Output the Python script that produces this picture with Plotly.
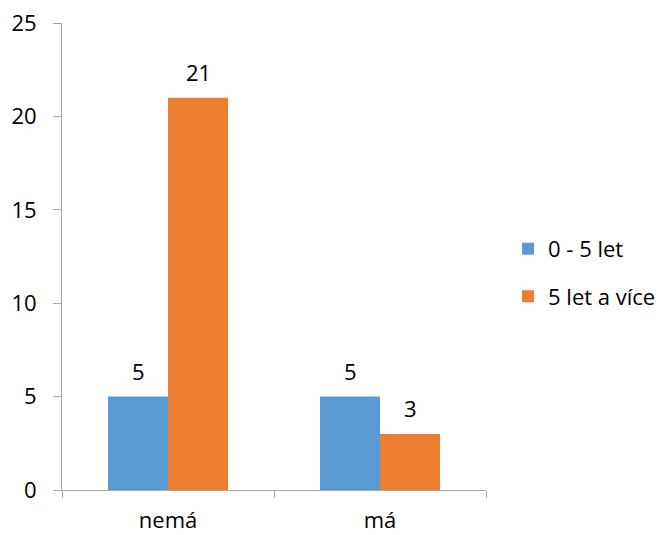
import plotly.graph_objects as go

categories = ["nemá", "má"]
series_names = ["0 - 5 let", "5 let a více"]
values_0_5 = [5, 5]
values_5_plus = [21, 3]
colors = ["#5B9BD5", "#ED7D31"]

FONT = "Open Sans"
FS = 22

fig = go.Figure()
all_vals = [values_0_5, values_5_plus]
for i, (name, vals) in enumerate(zip(series_names, all_vals)):
    fig.add_trace(go.Bar(
        x=categories, y=vals, name=name, marker_color=colors[i],
        marker_line_width=0, legendgroup=name,
    ))

# value labels above bars
shifts = [-30, 30]
for i, vals in enumerate(all_vals):
    for c, v in zip(categories, vals):
        fig.add_annotation(x=c, y=v, text=str(v), showarrow=False,
                           xshift=shifts[i], yshift=26,
                           font=dict(family=FONT, size=FS, color="#000000"))

fig.update_layout(
    width=666, height=535,
    margin=dict(l=54, r=188, t=15, b=53, autoexpand=False),
    paper_bgcolor="white", plot_bgcolor="white",
    barmode="group", bargap=0.434, bargroupgap=0,
    font=dict(family=FONT, size=FS, color="#000000"),
    showlegend=True,
    legend=dict(x=1.052, xanchor="left", y=0.465, yanchor="middle",
                traceorder="grouped", tracegroupgap=16,
                font=dict(family=FONT, size=FS, color="#000000")),
    xaxis=dict(showline=True, linecolor="#A6A6A6", linewidth=1,
               ticks="outside", tickson="boundaries", ticklen=7,
               tickcolor="#A6A6A6", showgrid=False, zeroline=False,
               automargin=False, ticklabelstandoff=11,
               ticklabeloverflow="allow"),
    yaxis=dict(range=[0, 25], dtick=5, showline=True, linecolor="#A6A6A6",
               linewidth=1, ticks="outside", ticklen=8, tickcolor="#A6A6A6",
               showgrid=False, zeroline=False, automargin=False,
               ticklabelstandoff=12, ticklabeloverflow="allow"),
)

fig.write_html("out.html")
